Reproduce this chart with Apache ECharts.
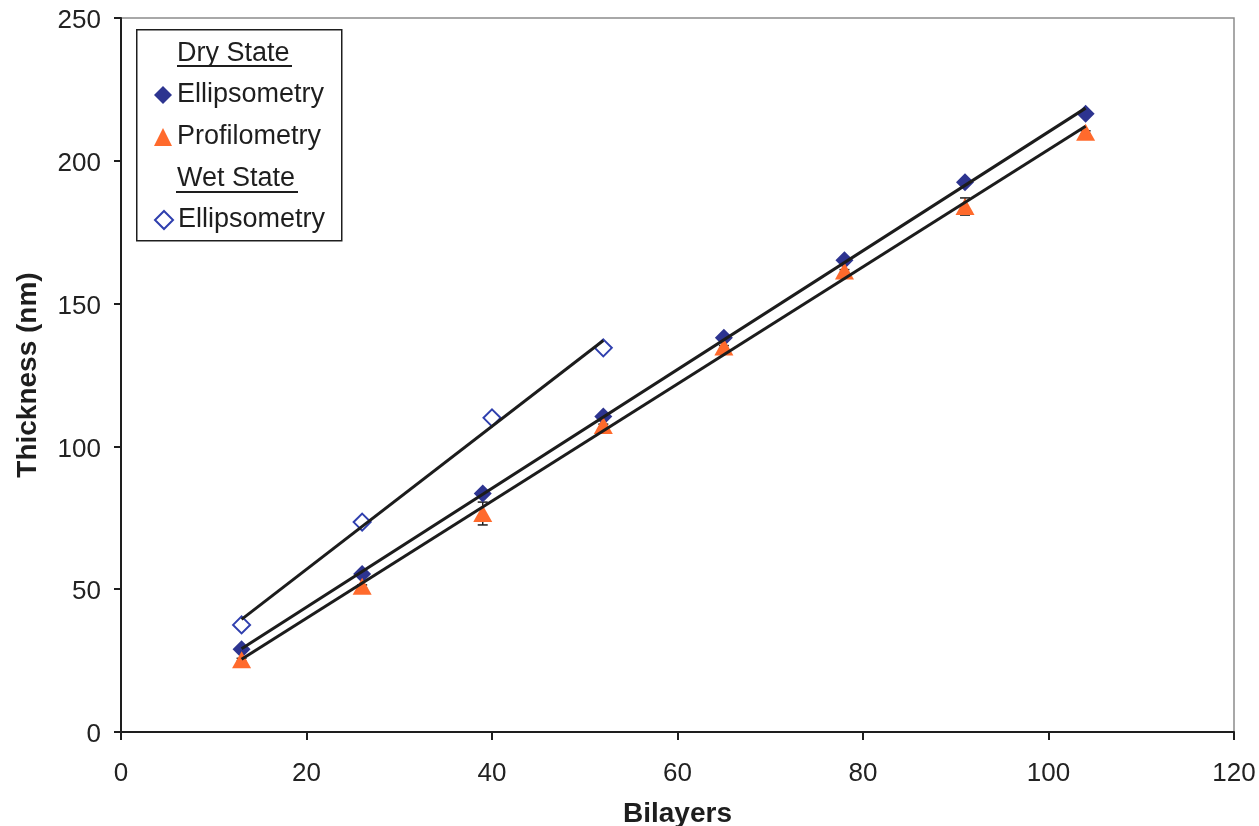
<!DOCTYPE html>
<html>
<head>
<meta charset="utf-8">
<style>
  html, body { margin: 0; padding: 0; background: #ffffff; }
  #chart { width: 1259px; height: 826px; }
</style>
<script src="https://cdn.jsdelivr.net/npm/echarts@6/dist/echarts.min.js"></script>
</head>
<body>
<div id="chart"></div>
<script>
// ---- data ----
const dryBilayers = [13, 26, 39, 52, 65, 78, 91, 104];
const dryEllipsometry = [29, 55.3, 83.5, 110.5, 138, 165.2, 192.5, 216.5];
const dryProfilometry = [25.3, 51, 76.5, 107.3, 134.8, 161.4, 184, 210];
const dryProfilometryErr = [0.5, 0.5, 4, 0.5, 0.5, 0.5, 3, 0.5];
const wetBilayers = [13, 26, 40, 52];
const wetEllipsometry = [37.5, 73.5, 110, 134.5];
const xTicks = [0, 20, 40, 60, 80, 100, 120];
const yTicks = [0, 50, 100, 150, 200, 250];

const FONT = '"Liberation Sans", Arial, sans-serif';
const NAVY = '#2d3490';
const WETBLUE = '#2f3fae';
const ORANGE = '#ff6a2c';

function pairs(xs, ys) { return xs.map((x, i) => [x, ys[i]]); }
function fitLine(xs, ys) {
  const n = xs.length;
  const mx = xs.reduce((a, b) => a + b, 0) / n;
  const my = ys.reduce((a, b) => a + b, 0) / n;
  let sxy = 0, sxx = 0;
  for (let i = 0; i < n; i++) { sxy += (xs[i] - mx) * (ys[i] - my); sxx += (xs[i] - mx) * (xs[i] - mx); }
  const b = sxy / sxx, a = my - b * mx;
  const x0 = Math.min(...xs), x1 = Math.max(...xs);
  return [[x0, a + b * x0], [x1, a + b * x1]];
}
function trend(data) {
  return {
    type: 'line', data: data, symbol: 'none', silent: true, z: 5,
    lineStyle: { color: '#1c1c1c', width: 3 }, animation: false
  };
}

const chart = echarts.init(document.getElementById('chart'), null, { renderer: 'canvas' });
const option = {
  backgroundColor: '#ffffff',
  animation: false,
  grid: { left: 121, right: 25, top: 18, bottom: 94, show: true, borderColor: '#8c8c8c', borderWidth: 1.5,
          containLabel: false, outerBoundsMode: 'none' },
  xAxis: {
    type: 'value', min: xTicks[0], max: xTicks[xTicks.length - 1], interval: 20,
    name: 'Bilayers', nameLocation: 'middle', nameGap: 68,
    nameTextStyle: { fontFamily: FONT, fontSize: 28, fontWeight: 'bold', color: '#1e1e1e' },
    axisLine: { lineStyle: { color: '#1e1e1e', width: 2 } },
    axisTick: { show: true, length: 8, lineStyle: { color: '#1e1e1e', width: 2 } },
    axisLabel: { fontFamily: FONT, fontSize: 26, color: '#222', margin: 29 },
    splitLine: { show: false }
  },
  yAxis: {
    type: 'value', min: yTicks[0], max: yTicks[yTicks.length - 1], interval: 50,
    name: 'Thickness (nm)', nameLocation: 'middle', nameGap: 79,
    nameTextStyle: { fontFamily: FONT, fontSize: 28, fontWeight: 'bold', color: '#1e1e1e' },
    axisLine: { show: true, lineStyle: { color: '#1e1e1e', width: 2 } },
    axisTick: { show: true, length: 7, lineStyle: { color: '#1e1e1e', width: 2 } },
    axisLabel: {
      fontFamily: FONT, fontSize: 26, color: '#222', margin: 20,
      formatter: '{v|{value}}',
      rich: { v: { fontFamily: FONT, fontSize: 26, color: '#222', padding: [6, 0, 0, 0] } }
    },
    splitLine: { show: false }
  },
  legend: [
    {
      data: ['Dry Ellipsometry', 'Profilometry'], orient: 'vertical',
      left: 154, top: 81, padding: 0, itemGap: 14, itemWidth: 18, itemHeight: 18,
      formatter: n => n.replace(/^(Dry|Wet) /, ''),
      textStyle: { fontFamily: FONT, fontSize: 27, color: '#1e1e1e', lineHeight: 28 }, z: 20
    },
    {
      data: ['Wet Ellipsometry'], orient: 'vertical',
      left: 154, top: 206, padding: 0, itemWidth: 18, itemHeight: 18,
      formatter: n => n.replace(/^(Dry|Wet) /, ''),
      textStyle: { fontFamily: FONT, fontSize: 27, color: '#1e1e1e', lineHeight: 28 }, z: 20
    }
  ],
  graphic: [
    { type: 'rect', left: 136, top: 29, z: 10,
      shape: { width: 205, height: 211 },
      style: { fill: '#fff', stroke: '#1e1e1e', lineWidth: 1.5 } },
    { type: 'text', left: 177, top: 40, z: 30,
      style: { text: 'Dry State', font: '27px ' + FONT, fill: '#1e1e1e' } },
    { type: 'line', z: 30, shape: { x1: 177, y1: 66, x2: 292, y2: 66 },
      style: { stroke: '#1e1e1e', lineWidth: 1.8 } },
    { type: 'text', left: 177, top: 165, z: 30,
      style: { text: 'Wet State', font: '27px ' + FONT, fill: '#1e1e1e' } },
    { type: 'line', z: 30, shape: { x1: 176, y1: 192, x2: 298, y2: 192 },
      style: { stroke: '#1e1e1e', lineWidth: 1.8 } }
  ],
  series: [
    {
      type: 'custom', silent: true, z: 2,
      data: dryBilayers.map((x, i) => [x, dryProfilometry[i], dryProfilometryErr[i]]),
      renderItem: function (params, api) {
        const x = api.value(0), y = api.value(1), e = api.value(2);
        const top = api.coord([x, y + e]);
        const bot = api.coord([x, y - e]);
        const hw = 5;
        const st = { stroke: '#1e1e1e', lineWidth: 1.5 };
        return {
          type: 'group', children: [
            { type: 'line', shape: { x1: top[0], y1: top[1], x2: bot[0], y2: bot[1] }, style: st },
            { type: 'line', shape: { x1: top[0] - hw, y1: top[1], x2: top[0] + hw, y2: top[1] }, style: st },
            { type: 'line', shape: { x1: bot[0] - hw, y1: bot[1], x2: bot[0] + hw, y2: bot[1] }, style: st }
          ]
        };
      }
    },
    {
      name: 'Dry Ellipsometry', type: 'scatter', symbol: 'diamond', symbolSize: [18, 18],
      itemStyle: { color: NAVY, opacity: 1 }, data: pairs(dryBilayers, dryEllipsometry), z: 3
    },
    {
      name: 'Profilometry', type: 'scatter', symbol: 'triangle', symbolSize: [19, 17],
      itemStyle: { color: ORANGE, opacity: 1 }, data: pairs(dryBilayers, dryProfilometry), z: 3
    },
    {
      name: 'Wet Ellipsometry', type: 'scatter', symbol: 'emptyDiamond', symbolSize: [17, 17],
      itemStyle: { color: WETBLUE, borderColor: WETBLUE, borderWidth: 2, opacity: 1 },
      data: pairs(wetBilayers, wetEllipsometry), z: 3
    },
    trend(fitLine(dryBilayers, dryEllipsometry)),
    trend(fitLine(dryBilayers, dryProfilometry)),
    trend(fitLine(wetBilayers, wetEllipsometry))
  ]
};
chart.setOption(option);
</script>
</body>
</html>
